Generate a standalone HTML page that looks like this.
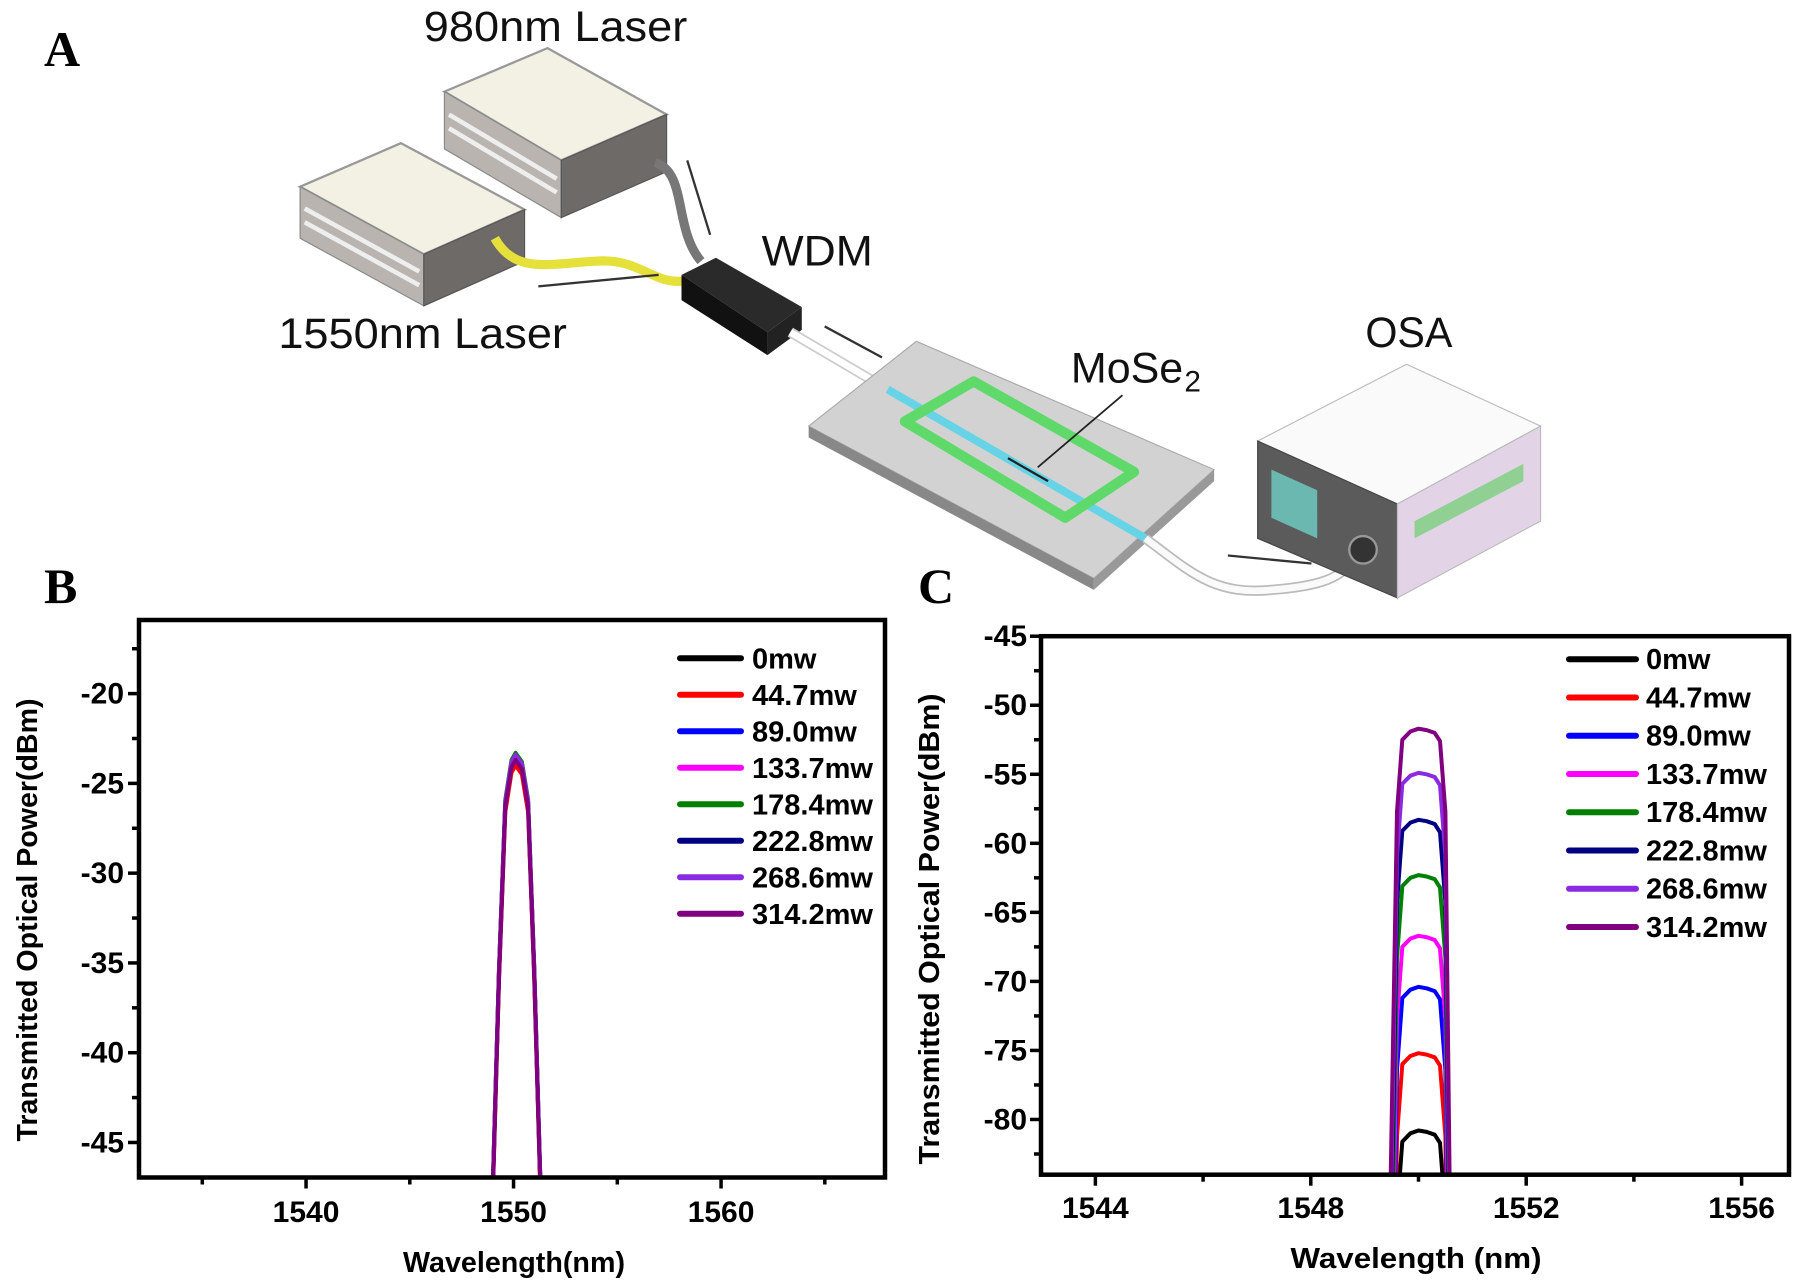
<!DOCTYPE html>
<html><head><meta charset="utf-8"><style>
html,body{margin:0;padding:0;background:#fff;width:1796px;height:1280px;overflow:hidden;}
svg{display:block;font-family:"Liberation Sans",Arial,sans-serif;}
</style></head><body>
<svg id="fig" width="1796" height="1280" viewBox="0 0 1796 1280" overflow="hidden" xmlns="http://www.w3.org/2000/svg">
<rect width="1796" height="1280" fill="#fff"/>
<text x="44" y="66" font-family="Liberation Serif,serif" font-weight="bold" font-size="50">A</text>
<text x="44" y="603" font-family="Liberation Serif,serif" font-weight="bold" font-size="50">B</text>
<text x="918" y="603" font-family="Liberation Serif,serif" font-weight="bold" font-size="50">C</text>

<g transform="scale(1.1454)">
  <g>
    <polygon points="388,80 478,42 582,100 490,140" fill="#f3f0e4" stroke="#999" stroke-width="2"/>
    <polygon points="388,80 490,140 490,190 388,130" fill="#b9b4b0" stroke="#888"/>
    <line x1="392" y1="100" x2="486" y2="156" stroke="#eee" stroke-width="4"/>
    <line x1="392" y1="112" x2="486" y2="168" stroke="#eee" stroke-width="4"/>
    <polygon points="490,140 582,100 582,150 490,190" fill="#6e6a68" stroke="#555"/>
  </g>
  <g>
    <polygon points="262,163 350,125 458,183 370,222" fill="#f3f0e4" stroke="#999" stroke-width="2"/>
    <polygon points="262,163 370,222 370,267 262,208" fill="#b9b4b0" stroke="#888"/>
    <line x1="266" y1="182" x2="366" y2="237" stroke="#eee" stroke-width="4"/>
    <line x1="266" y1="194" x2="366" y2="249" stroke="#eee" stroke-width="4"/>
    <polygon points="370,222 458,183 458,228 370,267" fill="#6e6a68" stroke="#555"/>
  </g>
  <path d="M572,142 C600,150 588,200 612,228" fill="none" stroke="#777" stroke-width="8"/>
  <path d="M432,208 C450,240 480,230 520,228 C560,225 570,250 600,245" fill="none" stroke="#e6e03a" stroke-width="8"/>
  <g>
    <polygon points="595,240 625,225 700,268 670,290" fill="#2a2a2a"/>
    <polygon points="595,240 670,290 670,310 595,262" fill="#111"/>
    <polygon points="670,290 700,268 700,288 670,310" fill="#222"/>
  </g>
  <path d="M690,290 L775,340" stroke="#ccc" stroke-width="9" fill="none"/>
  <path d="M690,290 L775,340" stroke="#fff" stroke-width="6" fill="none"/>
  <g>
    <polygon points="706,372 800,298 1060,410 955,505" fill="#d2d2d2" stroke="#aaa"/>
    <polygon points="706,372 955,505 955,515 706,382" fill="#888"/>
    <polygon points="955,505 1060,410 1060,420 955,515" fill="#999"/>
  </g>
  <path d="M775,340 L1000,470" stroke="#66d4e6" stroke-width="7" fill="none"/>
  <path d="M880,400 L915,420" stroke="#222" stroke-width="2"/>
  <path d="M1000,470 C1040,500 1060,520 1110,515 C1150,512 1175,505 1182,485" stroke="#bbb" stroke-width="9" fill="none"/>
  <path d="M1000,470 C1040,500 1060,520 1110,515 C1150,512 1175,505 1182,485" stroke="#fafafa" stroke-width="6" fill="none"/>
  <polygon points="790,368 850,333 990,412 930,452" fill="none" stroke="#5fd96a" stroke-width="9" stroke-linejoin="round"/>
  <line x1="980" y1="345" x2="906" y2="408" stroke="#222" stroke-width="1.5"/>
  <g stroke="#333" stroke-width="2">
    <line x1="600" y1="140" x2="620" y2="205"/>
    <line x1="470" y1="250" x2="575" y2="240"/>
    <line x1="720" y1="285" x2="770" y2="312"/>
    <line x1="1072" y1="485" x2="1145" y2="492"/>
  </g>
  <g>
    <polygon points="1098,385 1228,318 1345,372 1220,440" fill="#fafafa" stroke="#bbb"/>
    <polygon points="1098,385 1220,440 1220,522 1098,470" fill="#5b5b5b" stroke="#444"/>
    <polygon points="1110,410 1150,428 1150,470 1110,452" fill="#6bb8b0"/>
    <circle cx="1190" cy="480" r="12" fill="#333" stroke="#999" stroke-width="2"/>
    <polygon points="1220,440 1345,372 1345,455 1220,522" fill="#e2d4e6" stroke="#bbb"/>
    <polygon points="1235,455 1330,405 1330,420 1235,470" fill="#6fcf6f" opacity="0.7"/>
  </g>
  <g font-family="Liberation Sans Narrow,Liberation Sans,sans-serif" font-size="37" fill="#111">
    <text x="370" y="36" textLength="230" lengthAdjust="spacingAndGlyphs">980nm Laser</text>
    <text x="243" y="304" textLength="252" lengthAdjust="spacingAndGlyphs">1550nm Laser</text>
    <text x="665" y="232" textLength="97" lengthAdjust="spacingAndGlyphs">WDM</text>
    <text x="935" y="334" textLength="98" lengthAdjust="spacingAndGlyphs">MoSe</text>
    <text x="1034" y="342" font-size="26">2</text>
    <text x="1192" y="303" textLength="76" lengthAdjust="spacingAndGlyphs">OSA</text>
  </g>
</g>
<g id="chartB"></g>
<g id="chartC"></g>
</svg>
<script>
const seriesNames = ["0mw","44.7mw","89.0mw","133.7mw","178.4mw","222.8mw","268.6mw","314.2mw"];
const seriesColors = ["#000000","#ff0000","#0000ff","#ff00ff","#008000","#000080","#8a2be2","#800080"];
// Panel B data
const bWavelengths = [1549.0,1549.3,1549.6,1549.9,1550.1,1550.4,1550.7,1551.0,1551.3];
const bPeakValues = [-23.8,-24.0,-23.4,-23.5,-23.3,-23.6,-23.4,-23.7];
const bShapeOffsets = [-24,-12,-2.6,-0.4,0,-0.5,-2.6,-12,-24];
const bXTicks = [1540,1550,1560];
const bYTicks = [-20,-25,-30,-35,-40,-45];
// Panel C data
const cWavelengths = [1549.45,1549.6,1549.7,1549.85,1550.0,1550.15,1550.3,1550.4,1550.5,1550.6];
const cPeakValues = [-80.8,-75.2,-70.4,-66.7,-62.3,-58.3,-54.9,-51.7];
const cShapeOffsets = [-40,-6,-0.8,-0.2,0,-0.1,-0.3,-0.9,-6,-40];
const cXTicks = [1544,1548,1552,1556];
const cYTicks = [-45,-50,-55,-60,-65,-70,-75,-80];

const NS="http://www.w3.org/2000/svg";
function mk(tag,attrs,parent){const e=document.createElementNS(NS,tag);for(const k in attrs)e.setAttribute(k,attrs[k]);parent.appendChild(e);return e;}

function drawChart(g,cfg){
  const {L,T,R,B,x0,x1,y0,y1}=cfg;
  const sx=v=>L+(v-x0)/(x1-x0)*(R-L);
  const sy=v=>T+(y1-v)/(y1-y0)*(B-T);
  const clipId=cfg.id+"clip";
  const defs=mk("defs",{},g);
  const cp=mk("clipPath",{id:clipId},defs);
  mk("rect",{x:L,y:T,width:R-L,height:B-T},cp);
  for(let v=cfg.xMinorStart; v<=x1; v+=cfg.xMinor){
    const major = cfg.xTicks.includes(Math.round(v*100)/100);
    const t=mk("line",{x1:sx(v),x2:sx(v),y1:B,y2:B+(major?11:7),stroke:"#000","stroke-width":3.5},g);
    
    
  }
  for(let v=cfg.yMinorStart; v<=y1+0.001; v+=cfg.yMinor){
    const major = cfg.yTicks.includes(Math.round(v*100)/100);
    const t=mk("line",{y1:sy(v),y2:sy(v),x1:L,x2:L-(major?11:7),stroke:"#000","stroke-width":3.5},g);
    
    
  }
  cfg.xTicks.forEach(v=>{
    const t=mk("text",{x:sx(v),y:cfg.xLabelY,"text-anchor":"middle","font-weight":"bold","font-size":30},g);
    t.textContent=v;
    
    
  });
  cfg.yTicks.forEach(v=>{
    const t=mk("text",{x:cfg.yLabelX,y:sy(v)+10,"text-anchor":"end","font-weight":"bold","font-size":30},g);
    t.textContent=v;
    
    
  });
  const sg=mk("g",{"clip-path":`url(#${clipId})`},g);
  
  
  cfg.peaks.forEach((p,i)=>{
    const d=cfg.xs.map((w,j)=>(j?"L":"M")+sx(w).toFixed(1)+","+sy(p+cfg.offsets[j]).toFixed(1)).join(" ");
    const path=mk("path",{d:d,fill:"none",stroke:seriesColors[i],"stroke-width":4,"stroke-linejoin":"round"},sg);
    
    
  });
  const fr=mk("rect",{x:L,y:T,width:R-L,height:B-T,fill:"none",stroke:"#000","stroke-width":4.5},g);
  
  
  seriesNames.forEach((n,i)=>{
    const y=cfg.legY[0]+i*cfg.legStep;
    const ln=mk("line",{x1:cfg.legX1,x2:cfg.legX2,y1:y,y2:y,stroke:seriesColors[i],"stroke-width":6,"stroke-linecap":"round"},g);
    
    
    const t=mk("text",{x:cfg.legTX,y:y+10,"font-weight":"bold","font-size":29},g);
    t.textContent=n;
    
    
  });
  const xt=mk("text",{x:cfg.xTitle[0],y:cfg.xTitle[1],"text-anchor":"middle","font-weight":"bold","font-size":29,textLength:cfg.xTitle[2],lengthAdjust:"spacingAndGlyphs"},g);
  xt.textContent=cfg.xTitleText;
  
  
  const yt=mk("text",{x:0,y:0,"text-anchor":"middle","font-weight":"bold","font-size":29,textLength:cfg.yTitle[2],lengthAdjust:"spacingAndGlyphs",transform:`translate(${cfg.yTitle[0]},${cfg.yTitle[1]}) rotate(-90)`},g);
  yt.textContent="Transmitted Optical Power(dBm)";
  
  
}

drawChart(document.getElementById("chartB"),{id:"b",L:139,T:620,R:885,B:1177.5,x0:1531.95,x1:1567.9,y0:-46.95,y1:-15.9,
  xTicks:bXTicks,yTicks:bYTicks,xMinor:5,xMinorStart:1535,yMinor:2.5,yMinorStart:-45,
  xs:bWavelengths,peaks:bPeakValues,offsets:bShapeOffsets,
  xLabelY:1222,yLabelX:124,legY:[658.3],legStep:36.5,legX1:680,legX2:741,legTX:752,
  xTitle:[514,1272,222],xTitleText:"Wavelength(nm)",yTitle:[37,920,443]});
drawChart(document.getElementById("chartC"),{id:"c",L:1041,T:636.2,R:1789,B:1174.7,x0:1542.99,x1:1556.88,y0:-84.0,y1:-45,
  xTicks:cXTicks,yTicks:cYTicks,xMinor:2,xMinorStart:1544,yMinor:2.5,yMinorStart:-82.5,
  xs:cWavelengths,peaks:cPeakValues,offsets:cShapeOffsets,
  xLabelY:1218,yLabelX:1027,legY:[659.2],legStep:38.25,legX1:1569,legX2:1636,legTX:1646,
  xTitle:[1416,1268,251],xTitleText:"Wavelength (nm)",yTitle:[939,929,471]});
</script>
</body></html>
